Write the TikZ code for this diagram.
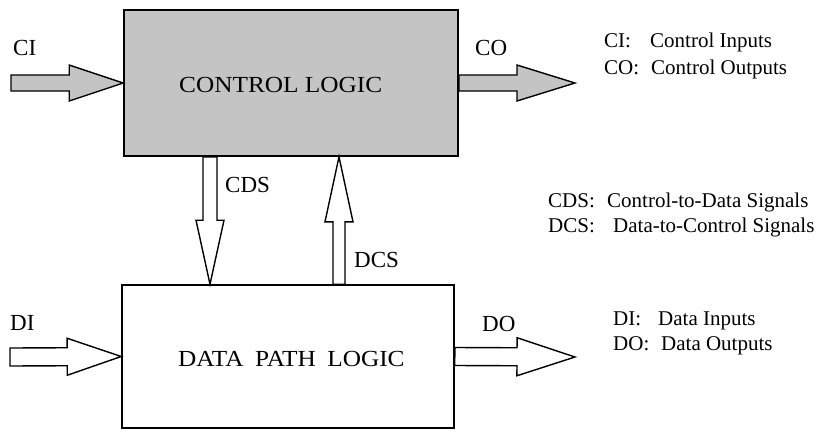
\documentclass[tikz,border=0pt]{standalone}
\usepackage{fontspec}
\setmainfont{Liberation Serif}
\usetikzlibrary{calc}

\definecolor{ctrlgray}{gray}{0.77}

% Block arrow: #1 style, #2 tail, #3 tip, #4 shaft half width,
% #5 head half width, #6 head length
\newcommand\blockarrow[6]{%
  \coordinate (ba-h) at ($(#3)!#6!(#2)$);
  \draw[#1] ($(#2)!#4!90:(#3)$) -- ($(ba-h)!#4!90:(#3)$)
    -- ($(ba-h)!#5!90:(#3)$) -- (#3)
    -- ($(ba-h)!#5!-90:(#3)$) -- ($(ba-h)!#4!-90:(#3)$)
    -- ($(#2)!#4!-90:(#3)$) -- cycle;
}

\begin{document}
\begin{tikzpicture}[x=1pt,y=-1pt,
  box/.style={draw, line width=1.6pt, inner sep=0pt},
  grayarrow/.style={draw, line width=1.4pt, fill=ctrlgray, line join=miter},
  whitearrow/.style={draw, line width=1.4pt, fill=white, line join=miter},
  lbl/.style={inner sep=0pt, anchor=base west, font=\fontsize{23}{27}\selectfont},
  legend/.style={inner sep=0pt, anchor=base west, font=\fontsize{21}{25}\selectfont},
  title/.style={inner sep=0pt, anchor=base west, font=\fontsize{23}{27}\selectfont}]
\useasboundingbox (0,0) rectangle (823,432);

% the two logic blocks
\node[box, fill=ctrlgray, minimum width=334pt, minimum height=146pt] (ctrl) at (291,83) {};
\node[box, fill=white, minimum width=332pt, minimum height=143pt] (data) at (288,356.5) {};
\node[title] (ctrl-title) at (179,92) {\scalebox{1.1}[1]{CONTROL LOGIC}};
\node[title] (data-title) at (178,366) {\scalebox{1.1}[1]{DATA\hspace{0.45em}PATH\hspace{0.45em}LOGIC}};

% control inputs and outputs
\coordinate (ci) at (11,83);
\blockarrow{grayarrow}{ci}{ctrl.west}{8pt}{18pt}{54pt}
\coordinate (co) at (575,83);
\blockarrow{grayarrow}{ctrl.east}{co}{8pt}{18pt}{58pt}

% data inputs and outputs
\coordinate (di) at (10,357);
\blockarrow{whitearrow}{di}{data.west}{9pt}{18.5pt}{54pt}
\coordinate (do) at (575,357);
\blockarrow{whitearrow}{data.east}{do}{9pt}{19pt}{58pt}

% signals between the blocks
\coordinate (cds-a) at (210,0 |- ctrl.south);
\coordinate (cds-b) at (210,0 |- data.north);
\blockarrow{whitearrow}{cds-a}{cds-b}{7pt}{14pt}{64pt}
\coordinate (dcs-a) at (339,0 |- data.north);
\coordinate (dcs-b) at (339,0 |- ctrl.south);
\blockarrow{whitearrow}{dcs-a}{dcs-b}{6pt}{14pt}{65pt}

% arrow labels
\node[lbl] (ci-lbl) at (13,55) {CI};
\node[lbl] (co-lbl) at (475,55) {CO};
\node[lbl] (cds-lbl) at (225,192) {CDS};
\node[lbl] (dcs-lbl) at (354,267) {DCS};
\node[lbl] (di-lbl) at (10,330) {DI};
\node[lbl] (do-lbl) at (482,331) {DO};

% legend
\node[legend] (lg1) at (604,47.5) {\makebox[46pt][l]{CI:}Control Inputs};
\node[legend] (lg2) at (604,74) {\makebox[47pt][l]{CO:}Control Outputs};
\node[legend] (lg3) at (548,207) {\makebox[59pt][l]{CDS:}Control-to-Data Signals};
\node[legend] (lg4) at (548,232) {\makebox[65pt][l]{DCS:}Data-to-Control Signals};
\node[legend] (lg5) at (613,325) {\makebox[45pt][l]{DI:}Data Inputs};
\node[legend] (lg6) at (613,350) {\makebox[48pt][l]{DO:}Data Outputs};
\end{tikzpicture}
\end{document}
